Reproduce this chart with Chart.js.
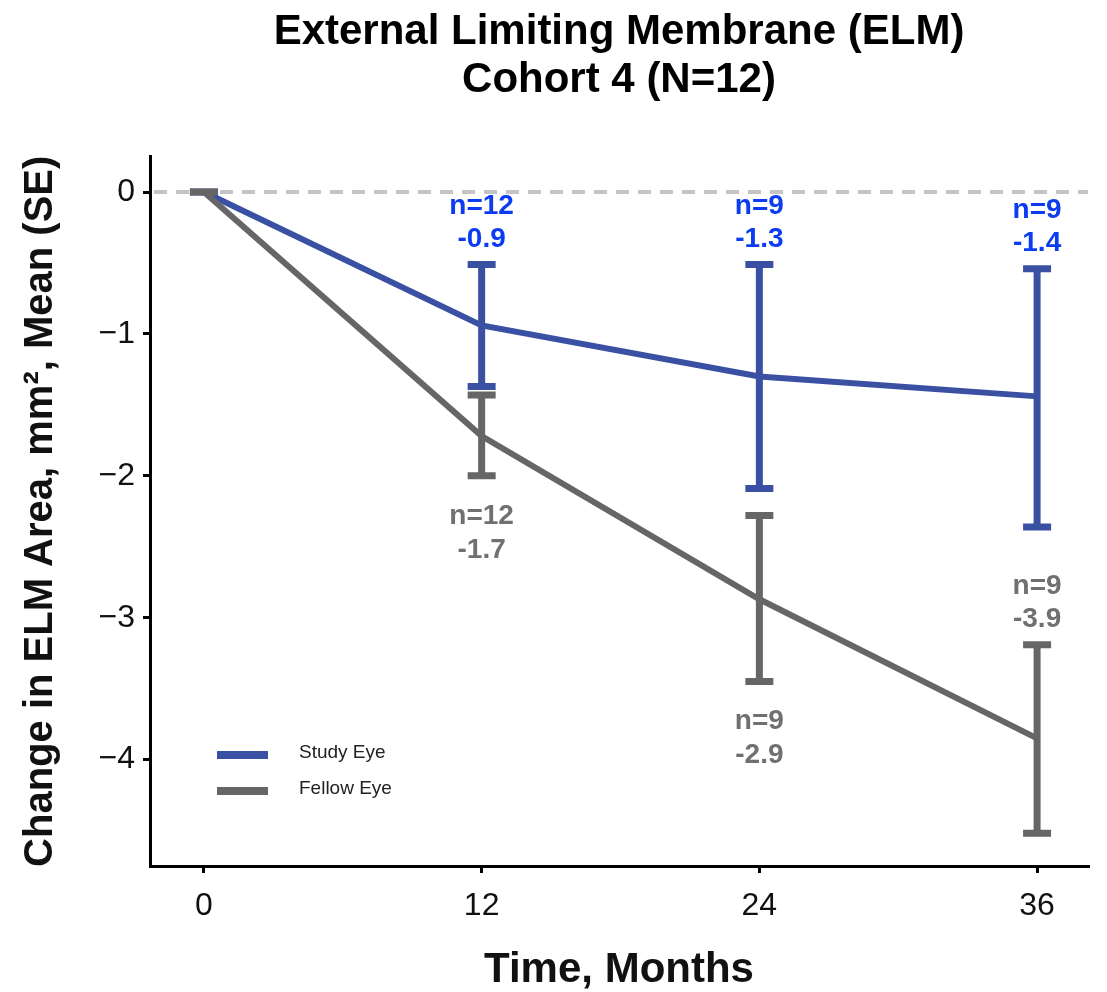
<!DOCTYPE html>
<html>
<head>
<meta charset="utf-8">
<script src="https://cdn.jsdelivr.net/npm/chart.js@4.4.1/dist/chart.umd.min.js"></script>
<style>
    body { margin: 0; background: #fff; }
</style>
</head>
<body>
<canvas id="chartElm" width="1107" height="992"></canvas>
<script>
// valores
var meses = [0, 12, 24, 36]
var ticksY = [-4, -3, -2, -1, 0]

var mediaEstudo = [0, -0.94, -1.30, -1.44]
var erroSupEstudo = [0, -0.51, -0.51, -0.54]
var erroInfEstudo = [0, -1.37, -2.09, -2.36]
var nEstudo = ['', 'n=12', 'n=9', 'n=9']
var textoEstudo = ['', '-0.9', '-1.3', '-1.4']
var ladoEstudo = ['', 'acima', 'acima', 'acima']

var mediaFellow = [0, -1.72, -2.87, -3.85]
var erroSupFellow = [0, -1.43, -2.28, -3.19]
var erroInfFellow = [0, -2.00, -3.45, -4.52]
var nFellow = ['', 'n=12', 'n=9', 'n=9']
var textoFellow = ['', '-1.7', '-2.9', '-3.9']
var ladoFellow = ['', 'abaixo', 'abaixo', 'acima']

const corEstudo = '#3a51a3'
const corFellow = '#666666'
const fonte = "'Liberation Sans', Arial, sans-serif"

const canvasElm = document.getElementById('chartElm');

function pontos(valores) {
    return meses.map((m, i) => ({ x: m, y: valores[i] }))
}

const linhaZero = {
    id: 'linhaZero',
    beforeDatasetsDraw(chart) {
        const { ctx, chartArea, scales } = chart
        const y = scales.y.getPixelForValue(0)
        ctx.save()
        ctx.strokeStyle = '#c4c4c4'
        ctx.lineWidth = 4
        ctx.setLineDash([13, 9])
        ctx.beginPath()
        ctx.moveTo(chartArea.left + 4, y)
        ctx.lineTo(chartArea.right, y)
        ctx.stroke()
        ctx.restore()
    }
}

const barrasErro = {
    id: 'barrasErro',
    afterDatasetDraw(chart, args) {
        const ds = chart.data.datasets[args.index]
        const { ctx, scales } = chart
        ctx.save()
        ctx.strokeStyle = ds.borderColor
        ctx.lineWidth = 7
        ctx.lineCap = 'butt'
        ds.erroSup.forEach((sup, i) => {
            const x = scales.x.getPixelForValue(meses[i])
            const yS = scales.y.getPixelForValue(sup)
            const yI = scales.y.getPixelForValue(ds.erroInf[i])
            ctx.beginPath()
            ctx.moveTo(x, yS)
            ctx.lineTo(x, yI)
            ctx.moveTo(x - 14, yS)
            ctx.lineTo(x + 14, yS)
            ctx.moveTo(x - 14, yI)
            ctx.lineTo(x + 14, yI)
            ctx.stroke()
        })
        ctx.restore()
    }
}

const rotulos = {
    id: 'rotulos',
    afterDraw(chart) {
        const { ctx, scales } = chart
        ctx.save()
        ctx.font = 'bold 28px ' + fonte
        ctx.textAlign = 'center'
        ctx.textBaseline = 'middle'
        chart.data.datasets.forEach(ds => {
            ctx.fillStyle = ds.corTexto
            ds.nTexto.forEach((n, i) => {
                if (!n) return
                const x = scales.x.getPixelForValue(meses[i])
                if (ds.lado[i] == 'acima') {
                    const y = scales.y.getPixelForValue(ds.erroSup[i])
                    ctx.fillText(n, x, y - 58)
                    ctx.fillText(ds.mediaTexto[i], x, y - 25)
                } else {
                    const y = scales.y.getPixelForValue(ds.erroInf[i])
                    ctx.fillText(n, x, y + 40)
                    ctx.fillText(ds.mediaTexto[i], x, y + 74)
                }
            })
        })

        // legenda dentro do gráfico
        ctx.font = '19px ' + fonte
        ctx.textAlign = 'left'
        ctx.fillStyle = '#222'
        ctx.lineWidth = 8
        chart.data.datasets.forEach((ds, i) => {
            const y = 755 + i * 36
            ctx.strokeStyle = ds.borderColor
            ctx.beginPath()
            ctx.moveTo(217, y)
            ctx.lineTo(268, y)
            ctx.stroke()
            ctx.fillText(ds.label, 299, y - 2)
        })
        ctx.restore()
    }
}

new Chart(canvasElm, {
    type: 'line',
    data: {
        datasets: [{
            label: 'Study Eye',
            data: pontos(mediaEstudo),
            borderColor: corEstudo,
            borderWidth: 6,
            pointRadius: 0,
            tension: 0,
            order: 2,
            erroSup: erroSupEstudo,
            erroInf: erroInfEstudo,
            nTexto: nEstudo,
            mediaTexto: textoEstudo,
            lado: ladoEstudo,
            corTexto: '#0b3cf2'
        }, {
            label: 'Fellow Eye',
            data: pontos(mediaFellow),
            borderColor: corFellow,
            borderWidth: 6,
            pointRadius: 0,
            tension: 0,
            order: 1,
            erroSup: erroSupFellow,
            erroInf: erroInfFellow,
            nTexto: nFellow,
            mediaTexto: textoFellow,
            lado: ladoFellow,
            corTexto: '#707070'
        }]
    },
    options: {
        responsive: false,
        animation: false,
        devicePixelRatio: 1,
        layout: {
            padding: { left: 0, right: 19, top: 0, bottom: 0 }
        },
        plugins: {
            legend: { display: false },
            tooltip: { enabled: false },
            title: {
                display: true,
                fullSize: false,
                text: ['External Limiting Membrane (ELM)', 'Cohort 4 (N=12)'],
                color: '#000',
                font: { family: fonte, size: 42, weight: 'bold', lineHeight: 1.15 },
                padding: { top: 8, bottom: 52 }
            }
        },
        scales: {
            x: {
                type: 'linear',
                min: -2.33,
                max: 38.2,
                afterBuildTicks: (escala) => {
                    escala.ticks = meses.map(v => ({ value: v }))
                },
                afterFit: (escala) => {
                    escala.height = 126
                },
                ticks: {
                    color: '#111',
                    font: { family: fonte, size: 32 },
                    padding: 14
                },
                grid: {
                    drawOnChartArea: false,
                    drawTicks: true,
                    tickLength: 7,
                    color: '#000',
                    lineWidth: 3
                },
                border: { display: true, color: '#000', width: 3 },
                title: {
                    display: true,
                    text: 'Time, Months',
                    color: '#111',
                    font: { family: fonte, size: 42, weight: 'bold', lineHeight: 1 },
                    padding: { top: 0, bottom: 1 }
                }
            },
            y: {
                type: 'linear',
                min: -4.75,
                max: 0.25,
                afterBuildTicks: (escala) => {
                    escala.ticks = ticksY.map(v => ({ value: v }))
                },
                afterFit: (escala) => {
                    escala.width = 150
                },
                ticks: {
                    color: '#111',
                    font: { family: fonte, size: 32 },
                    padding: 8,
                    callback: (v) => String(v).replace('-', '\u2212')
                },
                grid: {
                    drawOnChartArea: false,
                    drawTicks: true,
                    tickLength: 7,
                    color: '#000',
                    lineWidth: 3
                },
                border: { display: true, color: '#000', width: 3 },
                title: {
                    display: true,
                    text: 'Change in ELM Area, mm\u00b2, Mean (SE)',
                    color: '#111',
                    font: { family: fonte, size: 40, weight: 'bold', lineHeight: 1 },
                    padding: { top: 21, bottom: 0 }
                }
            }
        }
    },
    plugins: [linhaZero, barrasErro, rotulos]
});
</script>
</body>
</html>
